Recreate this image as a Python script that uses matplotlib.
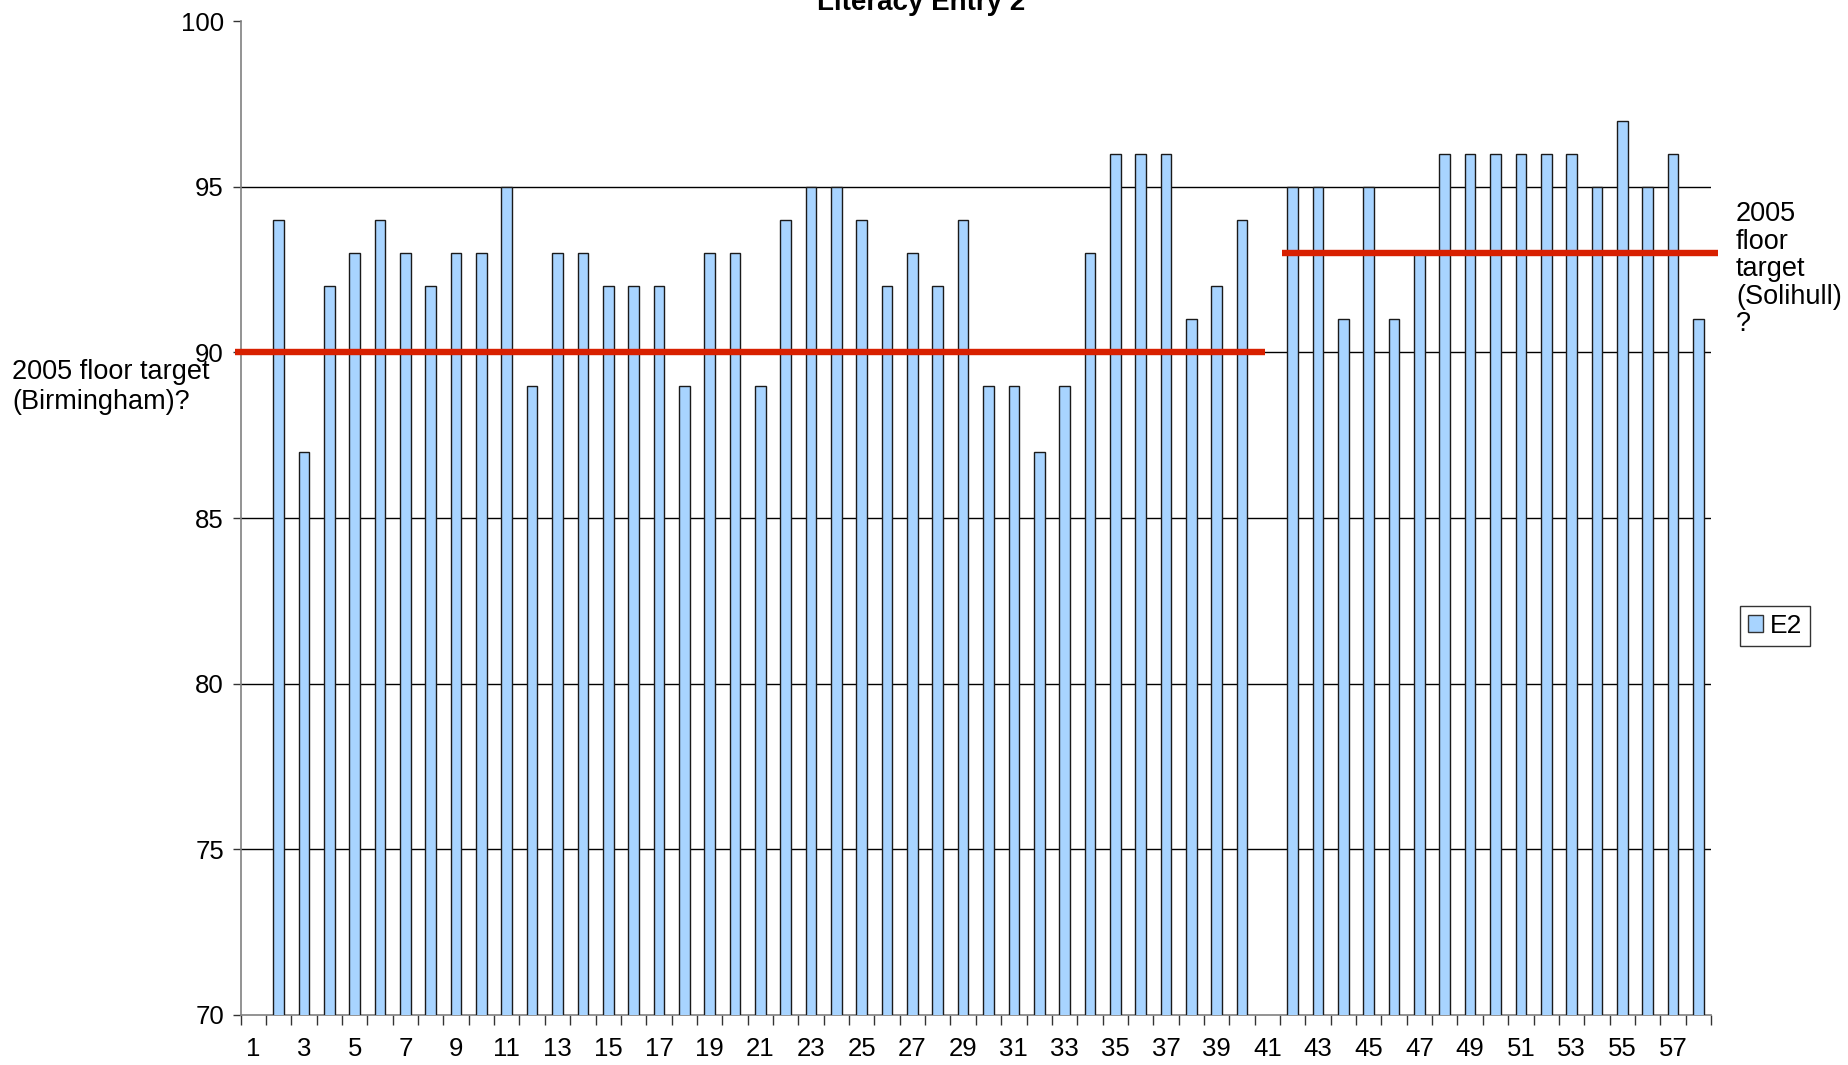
import numpy as np
import matplotlib
matplotlib.use("Agg")
import matplotlib.pyplot as plt
from matplotlib.patches import Patch

plt.rcParams['font.family'] = ['Liberation Sans', 'DejaVu Sans']

# ---- data ----
categories = list(range(1, 59))
e2_values = [np.nan, 94, 87, 92, 93, 94, 93, 92, 93, 93,
             95, 89, 93, 93, 92, 92, 92, 89, 93, 93,
             89, 94, 95, 95, 94, 92, 93, 92, 94, 89,
             89, 87, 89, 93, 96, 96, 96, 91, 92, 94,
             np.nan, 95, 95, 91, 95, 91, 93, 96, 96, 96,
             96, 96, 96, 95, 97, 95, 96, 91]
series_name = "E2"
title = "Literacy Entry 2"
target_values = [90, 93]
target_spans = [(0.27, 40.92), (41.57, 58.78)]
target_labels = ["2005 floor target\n(Birmingham)?", "2005\nfloor\ntarget\n(Solihull)\n?"]
y_ticks = [70, 75, 80, 85, 90, 95, 100]
x_tick_labels = list(range(1, 58, 2))

W, H = 1849, 1065
fig = plt.figure(figsize=(W / 100, H / 100), dpi=100)
left, right, top, bottom = 240.6, 1711, 21.2, 1015
ax = fig.add_axes([left / W, 1 - bottom / H, (right - left) / W, (bottom - top) / H])

ax.bar(categories, e2_values, width=0.42, color='#A8D4FF', edgecolor='#1a1a1a',
       linewidth=1.0, zorder=3)

ax.set_xlim(0.5, 58.5)
ax.set_ylim(70, 100)
ax.set_yticks(y_ticks)
ax.yaxis.grid(True, color='black', linewidth=1.0, zorder=1)
ax.set_axisbelow(True)
gl = ax.get_ygridlines()
gl[0].set_visible(False)
gl[-1].set_visible(False)

ax.set_xticks(x_tick_labels)
ax.set_xticklabels([str(v) for v in x_tick_labels])
ax.set_xticks(np.arange(0.5, 59.0, 1.0), minor=True)
ax.tick_params(axis='x', which='major', length=0, pad=16, labelsize=18.5)
ax.tick_params(axis='x', which='minor', length=7, width=1, color='#333333', direction='out')
ax.tick_params(axis='y', length=6, width=1, color='#333333', pad=6, labelsize=18.5)

for s in ['top', 'right']:
    ax.spines[s].set_visible(False)
ax.spines['left'].set_color('#808080')
ax.spines['bottom'].set_color('#808080')
ax.spines['left'].set_linewidth(1.2)
ax.spines['bottom'].set_linewidth(1.2)

# target lines
for val, (x0, x1) in zip(target_values, target_spans):
    ax.plot([x0, x1], [val, val], color='#D82000', linewidth=4.6, zorder=5,
            clip_on=False, solid_capstyle='butt')

# target labels
fig.text(12 / W, 1 - 359 / H, target_labels[0], fontsize=19.5, ha='left', va='top',
         linespacing=1.2)
fig.text(1736 / W, 1 - 201 / H, target_labels[1], fontsize=19.5, ha='left', va='top',
         linespacing=1.08)

# title
fig.text(921 / W, 1 - 10 / H, title, fontsize=20, fontweight='bold', ha='center',
         va='baseline')

# legend
handles = [Patch(facecolor='#A8D4FF', edgecolor='#333333', linewidth=1.0, label=series_name)]
leg = fig.legend(handles=handles, loc='center', bbox_to_anchor=(1775 / W, 1 - 626 / H),
                 fontsize=19, frameon=True, fancybox=False, handlelength=0.6,
                 handleheight=0.6, handletextpad=0.25, borderpad=0.3, borderaxespad=0)
leg.get_frame().set_edgecolor('black')
leg.get_frame().set_linewidth(1.0)

fig.savefig('out.png', dpi=100)
